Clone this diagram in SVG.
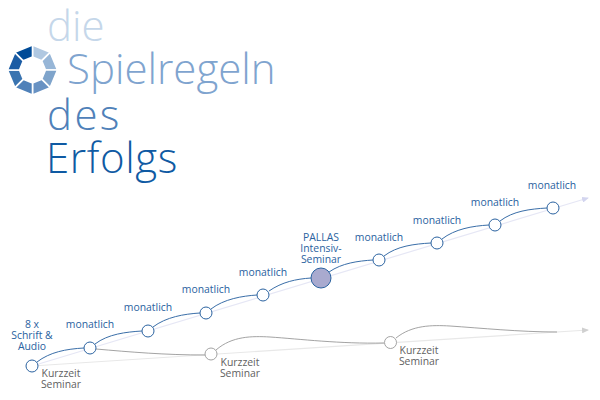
<svg xmlns="http://www.w3.org/2000/svg" width="600" height="400" viewBox="0 0 600 400">
<style>
.t{font-family:"Open Sans","Liberation Sans",sans-serif;font-weight:300;font-size:42px}
.l{font-family:"Open Sans","Liberation Sans",sans-serif;font-size:10.4px;text-anchor:middle}
.b{fill:#2a62a0}
.g{fill:#5f5f5f}
.n{fill:#fff;stroke:#2a62a0;stroke-width:1}
.m{fill:#fff;stroke:#999;stroke-width:.9}
.c{fill:none;stroke:#3a6ea8;stroke-width:1}
.d{fill:none;stroke:#999;stroke-width:.9}
.s{stroke:#fff;stroke-width:1.6}
</style>
<defs>
<marker id="a1" markerWidth="7" markerHeight="6" refX="6" refY="3" orient="auto" markerUnits="userSpaceOnUse"><path d="M0 0L7 3L0 6Z" fill="#d3d5ef"/></marker>
<marker id="a2" markerWidth="7" markerHeight="6" refX="6" refY="3" orient="auto" markerUnits="userSpaceOnUse"><path d="M0 0L7 3L0 6Z" fill="#d0d0d0"/></marker>
</defs>
<g id="logo">
<polygon class="s" fill="#b0c8e1" points="32.5,45 50.18,52.32 41.69,60.81 32.5,57"/>
<polygon class="s" fill="#97b6d7" points="50.18,52.32 57.5,70 45.5,70 41.69,60.81"/>
<polygon class="s" fill="#7fa4cb" points="57.5,70 50.18,87.68 41.69,79.19 45.5,70"/>
<polygon class="s" fill="#6892c3" points="50.18,87.68 32.5,95 32.5,83 41.69,79.19"/>
<polygon class="s" fill="#4f81b9" points="32.5,95 14.82,87.68 23.31,79.19 32.5,83"/>
<polygon class="s" fill="#3a74b0" points="14.82,87.68 7.5,70 19.5,70 23.31,79.19"/>
<polygon class="s" fill="#1b5ca4" points="7.5,70 14.82,52.32 23.31,60.81 19.5,70"/>
<polygon class="s" fill="#004b97" points="14.82,52.32 32.5,45 32.5,57 23.31,60.81"/>
</g>
<g id="title">
<text class="t" x="47" y="41" fill="#c5d7ea">die</text>
<text class="t" x="67" y="84" fill="#7fa4cf">Spielregeln</text>
<text class="t" x="47" y="130" fill="#4f81b9" letter-spacing="2.4">des</text>
<text class="t" x="46" y="173" fill="#0f5aa3" letter-spacing=".6">Erfolgs</text>
</g>
<g id="connectors">
<path d="M32 366L588 198" stroke="#e6e7f5" stroke-width="1.2" fill="none" marker-end="url(#a1)"/>
<path d="M32 366L588 330" stroke="#e8e8e8" stroke-width="1.2" fill="none" marker-end="url(#a2)"/>
<path class="c" d="M37 362C50 352 66 349 84 348"/>
<path class="c" d="M95 344C108 334 126 332 142 331"/>
<path class="c" d="M153 327C166 317 184 314 200 313"/>
<path class="c" d="M211 309C224 299 242 296 257 295"/>
<path class="c" d="M269 291C282 282 296 279 311 278"/>
<path class="c" d="M329 272C342 263 358 261 373 260"/>
<path class="c" d="M384 256C397 246 414 244 431 243"/>
<path class="c" d="M442 239C455 229 472 226 489 225"/>
<path class="c" d="M500 221C513 211 530 209 547 208"/>
<path class="d" d="M96 349C130 352 165 355 205 355"/>
<path class="d" d="M216 350C232 336 252 336 270 337C300 339 340 344 384 343"/>
<path class="d" d="M396 338C412 325 432 325 450 326C480 328 520 332 557 332"/>
</g>
<g id="n1"><circle class="n" cx="32" cy="366" r="6"/><text class="l b"><tspan x="32" y="328">8 x</tspan><tspan x="32" y="339">Schrift &amp;</tspan><tspan x="32" y="350">Audio</tspan></text><text class="l g"><tspan x="61" y="377">Kurzzeit</tspan><tspan x="61" y="388">Seminar</tspan></text></g>
<g id="n2"><circle class="n" cx="90" cy="348" r="6"/><text class="l b" x="90" y="328">monatlich</text></g>
<g id="n3"><circle class="n" cx="148" cy="331" r="6"/><text class="l b" x="148" y="311">monatlich</text></g>
<g id="n4"><circle class="n" cx="206" cy="313" r="6"/><text class="l b" x="206" y="293">monatlich</text></g>
<g id="n5"><circle class="n" cx="263" cy="295" r="6"/><text class="l b" x="263" y="276">monatlich</text></g>
<g id="n6"><circle cx="321" cy="278" r="10" fill="#a9aacf" stroke="#2a62a0" stroke-width="1"/><text class="l b"><tspan x="321" y="241">PALLAS</tspan><tspan x="321" y="252">Intensiv-</tspan><tspan x="321" y="263">Seminar</tspan></text></g>
<g id="n7"><circle class="n" cx="379" cy="260" r="6"/><text class="l b" x="379" y="241">monatlich</text></g>
<g id="n8"><circle class="n" cx="437" cy="243" r="6"/><text class="l b" x="437" y="224">monatlich</text></g>
<g id="n9"><circle class="n" cx="495" cy="225" r="6"/><text class="l b" x="495" y="206">monatlich</text></g>
<g id="n10"><circle class="n" cx="553" cy="208" r="6"/><text class="l b" x="552" y="189">monatlich</text></g>
<g id="k1"><circle class="m" cx="211" cy="354" r="6"/><text class="l g"><tspan x="240" y="366">Kurzzeit</tspan><tspan x="240" y="377">Seminar</tspan></text></g>
<g id="k2"><circle class="m" cx="390.5" cy="342.5" r="6"/><text class="l g"><tspan x="419" y="354">Kurzzeit</tspan><tspan x="419" y="365">Seminar</tspan></text></g>
</svg>
